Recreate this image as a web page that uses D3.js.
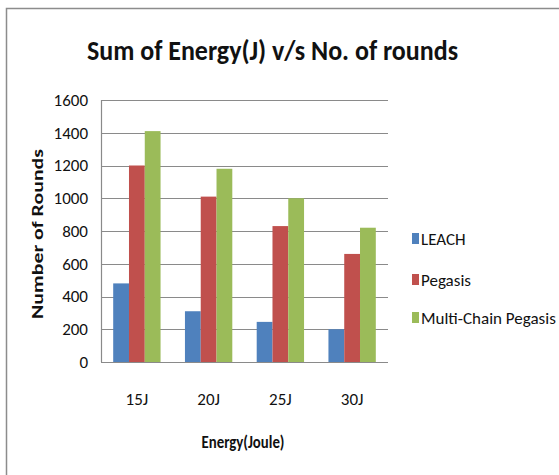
<!DOCTYPE html>
<html>
<head>
<meta charset="utf-8">
<script src="https://cdn.jsdelivr.net/npm/d3@7"></script>
<style>
  body { margin: 0; background: #fff; }
  svg { display: block; }
  text { font-family: Calibri, Carlito, "Open Sans", sans-serif; fill: #111; }
</style>
</head>
<body>
<div id="chart"></div>
<script>
// chart data
const categories = ["15J", "20J", "25J", "30J"];
const seriesNames = ["LEACH", "Pegasis", "Multi-Chain Pegasis"];
const leach = [480, 310, 245, 200];
const pegasis = [1200, 1010, 830, 660];
const multiChain = [1410, 1180, 1000, 820];
const yTicks = [0, 200, 400, 600, 800, 1000, 1200, 1400, 1600];

const colors = ["#4F81BD", "#C0504D", "#9BBB59"];
const series = [leach, pegasis, multiChain];

const width = 559, height = 475;
const plot = { left: 101, right: 388, top: 100, bottom: 362 };

const svg = d3.select("#chart").append("svg")
  .attr("width", width)
  .attr("height", height);

// outer frame of the chart
svg.append("rect")
  .attr("x", 6.5).attr("y", 8.5)
  .attr("width", 600).attr("height", 500)
  .attr("fill", "#fff")
  .attr("stroke", "#8c8c8c")
  .attr("stroke-width", 1.5);

// scales
const x0 = d3.scaleBand()
  .domain(categories)
  .range([plot.left, plot.right])
  .paddingInner(0.34)
  .paddingOuter(0.17);

const x1 = d3.scaleBand()
  .domain(seriesNames)
  .range([0, x0.bandwidth()]);

const y = d3.scaleLinear()
  .domain([0, 1600])
  .range([plot.bottom, plot.top]);

// gridlines
svg.append("g")
  .selectAll("line")
  .data(yTicks)
  .join("line")
  .attr("x1", plot.left).attr("x2", plot.right)
  .attr("y1", d => Math.round(y(d)) + 0.5)
  .attr("y2", d => Math.round(y(d)) + 0.5)
  .attr("stroke", "#8a8a8a")
  .attr("stroke-width", 1.2);

// left axis line
svg.append("line")
  .attr("x1", plot.left + 0.5).attr("x2", plot.left + 0.5)
  .attr("y1", y(1600)).attr("y2", y(0))
  .attr("stroke", "#8a8a8a")
  .attr("stroke-width", 1.2);

// bars
const groups = svg.append("g")
  .selectAll("g")
  .data(categories)
  .join("g")
  .attr("transform", d => `translate(${x0(d)},0)`);

groups.selectAll("rect")
  .data((d, i) => seriesNames.map((s, j) => ({ s, j, v: series[j][i] })))
  .join("rect")
  .attr("x", d => x1(d.s))
  .attr("y", d => y(d.v))
  .attr("width", x1.bandwidth())
  .attr("height", d => y(0) - y(d.v))
  .attr("fill", d => colors[d.j]);

// y tick labels
svg.append("g")
  .selectAll("text")
  .data(yTicks)
  .join("text")
  .attr("x", 88)
  .attr("y", d => y(d))
  .attr("dy", "0.35em")
  .attr("text-anchor", "end")
  .style("font-size", "17px")
  .text(d => d);

// x tick labels
svg.append("g")
  .selectAll("text")
  .data(categories)
  .join("text")
  .attr("x", d => x0(d) + x0.bandwidth() / 2)
  .attr("y", 405)
  .attr("text-anchor", "middle")
  .style("font-size", "17px")
  .text(d => d);

// title
svg.append("text")
  .attr("x", 272.5)
  .attr("y", 60)
  .attr("text-anchor", "middle")
  .style("font-size", "28px")
  .style("font-weight", "bold")
  .attr("textLength", 371)
  .attr("lengthAdjust", "spacingAndGlyphs")
  .text("Sum of Energy(J) v/s No. of rounds");

// axis titles
svg.append("text")
  .attr("x", 243)
  .attr("y", 448)
  .attr("text-anchor", "middle")
  .style("font-size", "17px")
  .style("font-weight", "600")
  .attr("textLength", 83)
  .attr("lengthAdjust", "spacingAndGlyphs")
  .text("Energy(Joule)");

svg.append("text")
  .attr("transform", "translate(43,234) rotate(-90)")
  .attr("text-anchor", "middle")
  .style("font-size", "15px")
  .style("font-weight", "bold")
  .attr("textLength", 170)
  .attr("lengthAdjust", "spacingAndGlyphs")
  .text("Number of Rounds");

// legend
const legendY = [239, 280, 318];
const legend = svg.append("g")
  .selectAll("g")
  .data(seriesNames)
  .join("g")
  .attr("transform", (d, i) => `translate(412,${legendY[i]})`);

legend.append("rect")
  .attr("x", 0).attr("y", -6)
  .attr("width", 7).attr("height", 11)
  .attr("fill", (d, i) => colors[i]);

legend.append("text")
  .attr("x", 9)
  .attr("dy", "0.35em")
  .style("font-size", "17px")
  .text(d => d);
</script>
</body>
</html>
